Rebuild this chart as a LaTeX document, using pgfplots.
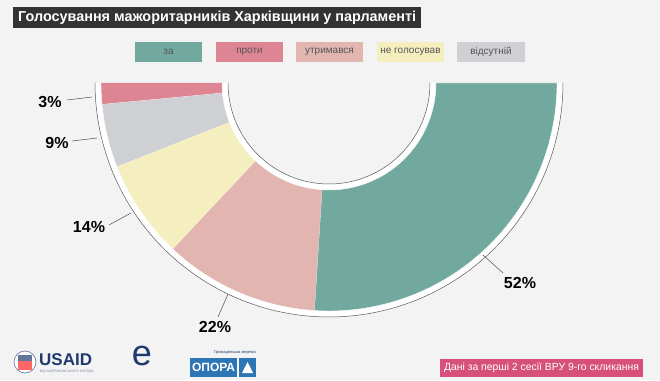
\documentclass[border=0pt]{standalone}
\usepackage{fontspec}
\setmainfont{Liberation Sans}
\usepackage{pgfplots}
\pgfplotsset{compat=1.18}
\definecolor{bg}{HTML}{F3F3F3}
\definecolor{cza}{HTML}{72A99F}
\definecolor{cproty}{HTML}{DD8593}
\definecolor{cutr}{HTML}{E2B5B1}
\definecolor{cne}{HTML}{F5EEBF}
\definecolor{cvid}{HTML}{CFD0D4}
\definecolor{foot}{HTML}{D6507A}
\definecolor{navy}{HTML}{1F3A6E}
\definecolor{opora}{HTML}{2E75B6}
\definecolor{ltxt}{HTML}{555555}
% ring sector: fill options, outer radius, inner radius, start angle, end angle
\newcommand{\ring}[5]{%
\addplot[#1, domain=0:3, samples=241, variable=\t]
 ({329+ifthenelse(\t<1,(#2),ifthenelse(\t<2,(#2)-((#2)-(#3))*(\t-1),(#3)))*cos(ifthenelse(\t<1,(#4)+((#5)-(#4))*\t,ifthenelse(\t<2,(#5),(#5)-((#5)-(#4))*(\t-2))))},
  {297+ifthenelse(\t<1,(#2),ifthenelse(\t<2,(#2)-((#2)-(#3))*(\t-1),(#3)))*sin(ifthenelse(\t<1,(#4)+((#5)-(#4))*\t,ifthenelse(\t<2,(#5),(#5)-((#5)-(#4))*(\t-2))))});}
% segment: colour, cumulative start (%), cumulative end (%)
\newcommand{\seg}[3]{\ring{fill=#1, draw=white, line width=0.4pt}{228}{107}{180+1.8*#2}{180+1.8*#3}}
\begin{document}
\begin{tikzpicture}
\begin{axis}[x=1pt, y=1pt, xmin=0, xmax=660, ymin=0, ymax=380, hide axis, clip=false]
\fill[bg] (axis cs:0,0) rectangle (axis cs:660,380);
% title
\fill[black!80] (axis cs:13,352) rectangle (axis cs:421,373);
\node[anchor=west, text=white, font=\fontsize{14.4}{16}\selectfont\bfseries, inner sep=0pt] at (axis cs:18,362.5) {Голосування мажоритарників Харківщини у парламенті};
% legend
\fill[cza] (axis cs:135,318) rectangle (axis cs:202,338);
\node[text=ltxt, font=\fontsize{10}{12}\selectfont] at (axis cs:168.5,328) {за};
\fill[cproty] (axis cs:216,318) rectangle (axis cs:283,338);
\node[text=ltxt, font=\fontsize{10}{12}\selectfont] at (axis cs:249.5,328) {проти};
\fill[cutr] (axis cs:296,318) rectangle (axis cs:363,338);
\node[text=ltxt, font=\fontsize{10}{12}\selectfont] at (axis cs:329.5,328) {утримався};
\fill[cne] (axis cs:377,318) rectangle (axis cs:444,338);
\node[text=ltxt, font=\fontsize{10}{12}\selectfont] at (axis cs:410.5,328) {не голосував};
\fill[cvid] (axis cs:457,318) rectangle (axis cs:525,338);
\node[text=ltxt, font=\fontsize{10}{12}\selectfont] at (axis cs:491,328) {відсутній};
% white band and outline arcs
\ring{fill=white, draw=none}{234}{101}{180}{360}
\addplot[draw=black!65, line width=0.5pt, domain=180:360, samples=120] ({329+234*cos(x)},{297+234*sin(x)});
\addplot[draw=black!65, line width=0.5pt, domain=180:360, samples=100] ({329+101*cos(x)},{297+101*sin(x)});
% data: 3, 9, 14, 22, 52 (%)
\seg{cproty}{0}{3}
\seg{cvid}{3}{12}
\seg{cne}{12}{26}
\seg{cutr}{26}{48}
\seg{cza}{48}{100}
% labels
\draw[black!70, line width=0.5pt] (axis cs:67,280) -- (axis cs:92,283);
\node[font=\fontsize{16}{18}\selectfont\bfseries] at (axis cs:50,278) {3\%};
\draw[black!70, line width=0.5pt] (axis cs:72,239) -- (axis cs:97,242);
\node[font=\fontsize{16}{18}\selectfont\bfseries] at (axis cs:57,237) {9\%};
\draw[black!70, line width=0.5pt] (axis cs:109,155) -- (axis cs:131,167);
\node[font=\fontsize{16}{18}\selectfont\bfseries] at (axis cs:89,153) {14\%};
\draw[black!70, line width=0.5pt] (axis cs:218,63) -- (axis cs:228,86);
\node[font=\fontsize{16}{18}\selectfont\bfseries] at (axis cs:215,53) {22\%};
\draw[black!70, line width=0.5pt] (axis cs:483,125) -- (axis cs:503,107);
\node[font=\fontsize{16}{18}\selectfont\bfseries] at (axis cs:520,97) {52\%};
% footer
\fill[foot] (axis cs:440,3) rectangle (axis cs:643,21);
\node[text=white, font=\fontsize{10.4}{12}\selectfont] at (axis cs:541.5,12) {Дані за перші 2 сесії ВРУ 9-го скликання};
% logos (approximate)
\fill[white] (axis cs:25,18) circle[radius=12pt];
\draw[navy!60, line width=0.8pt] (axis cs:25,18) circle[radius=11pt];
\fill[red!60!white] (axis cs:18,10) rectangle (axis cs:32,19);
\fill[navy!70] (axis cs:18,19) rectangle (axis cs:32,25);
\node[anchor=west, text=navy, font=\fontsize{17}{18}\selectfont\bfseries, inner sep=0pt] at (axis cs:39,20) {USAID};
\node[anchor=west, text=navy!60, font=\fontsize{3.4}{3.4}\selectfont, inner sep=0pt] at (axis cs:40,8) {ВІД АМЕРИКАНСЬКОГО НАРОДУ};
\node[text=navy, font=\fontsize{36}{36}\selectfont, inner sep=0pt] at (axis cs:142,24) {e};
\fill[opora] (axis cs:190,3) rectangle (axis cs:237,22);
\node[text=white, font=\fontsize{12}{13}\selectfont\bfseries, inner sep=0pt] at (axis cs:213.5,12.5) {ОПОРА};
\fill[opora] (axis cs:239,3) rectangle (axis cs:256,22);
\fill[white] (axis cs:242,7) -- (axis cs:253,7) -- (axis cs:247.5,18) -- cycle;
\node[anchor=east, text=navy, font=\fontsize{4}{4}\selectfont, inner sep=0pt] at (axis cs:256,27) {Громадянська мережа};
\end{axis}
\end{tikzpicture}
\end{document}
